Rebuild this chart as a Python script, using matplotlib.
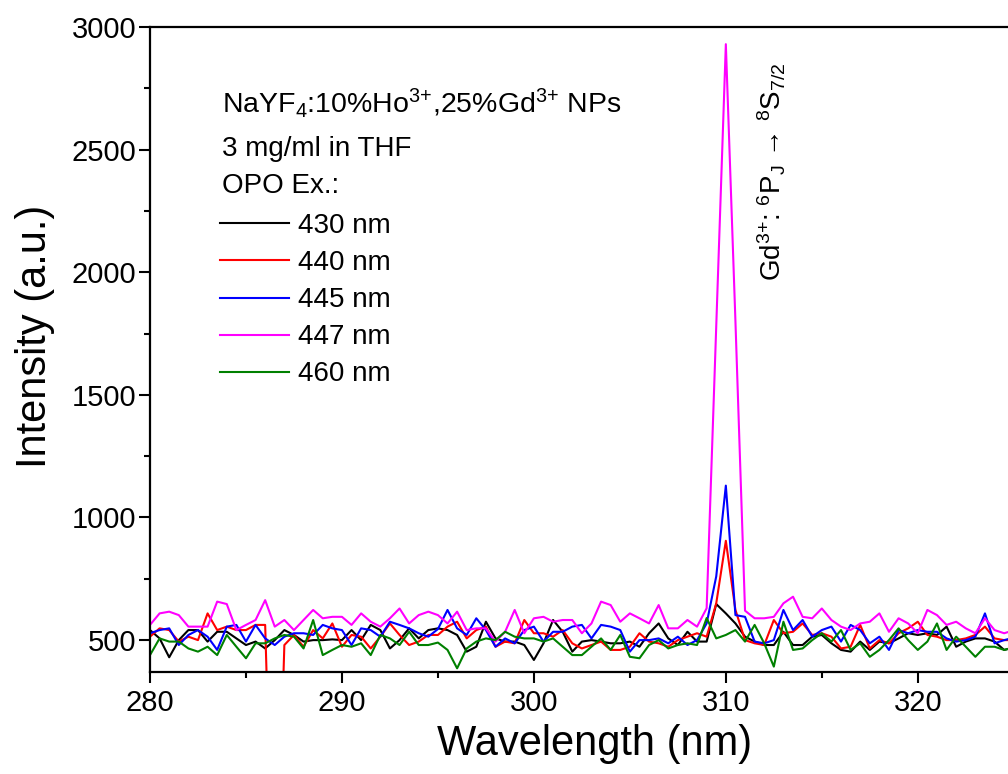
import numpy as np
import matplotlib
matplotlib.use("Agg")
import matplotlib.pyplot as plt

plt.rcParams['font.family'] = ['Liberation Sans', 'DejaVu Sans']
plt.rcParams['mathtext.fontset'] = 'custom'
plt.rcParams['mathtext.rm'] = 'Liberation Sans'
plt.rcParams['mathtext.it'] = 'Liberation Sans:italic'

# wavelength grid (nm), 0.5 nm steps
wavelength = np.arange(280, 325.5, 0.5)

ex_430 = [541, 507, 430, 500, 541, 541, 494, 534, 534, 507, 480, 494, 466, 500, 541, 521, 494, 500, 500, 503,
          500, 541, 500, 562, 541, 466, 500, 548, 507, 541,
          548, 541, 521, 453, 473, 575, 507, 494, 494, 480, 419, 487, 582, 534, 453, 494, 500, 494, 487, 487,
          494, 473, 528, 568, 507, 480, 534, 494, 494, 647,
          609, 568, 514, 494, 480, 480, 534, 480, 480, 514, 521, 487, 460, 453, 494, 460, 494, 487, 507, 528,
          521, 528, 521, 555, 473, 494, 507, 507, 494, 460, 470]
ex_440 = [514, 548, 541, 494, 514, 500, 609, 541, 555, 541, 541, 562, 562, -800, 480, 521, 473, 541, 507, 568,
          473, 521, 514, 466, 514, 568, 521, 480, 494, 521,
          521, 555, 575, 507, 541, 555, 473, 494, 487, 582, 528, 528, 514, 541, 487, 466, 480, 494, 460, 460,
          473, 528, 494, 487, 473, 500, 514, 528, 514, 650,
          905, 623, 500, 487, 480, 582, 528, 534, 568, 521, 528, 514, 466, 473, 562, 466, 500, 487, 528, 548,
          575, 521, 514, 500, 500, 507, 521, 555, 507, 500, 500]
ex_445 = [528, 541, 548, 480, 521, 541, 514, 460, 555, 562, 494, 562, 507, 480, 514, 528, 528, 521, 562, 548,
          541, 480, 548, 541, 514, 575, 562, 548, 528, 514,
          545, 623, 548, 521, 589, 541, 473, 507, 487, 541, 555, 494, 534, 534, 555, 562, 507, 562, 555, 541,
          453, 500, 500, 507, 487, 514, 480, 500, 568, 760,
          1130, 602, 595, 494, 487, 500, 623, 541, 582, 514, 541, 555, 494, 562, 541, 487, 514, 460, 541, 528,
          541, 534, 534, 507, 494, 500, 514, 609, 487, 500, 510]
ex_447 = [562, 609, 616, 602, 555, 555, 555, 657, 647, 541, 562, 582, 663, 555, 582, 541, 582, 623, 589, 595,
          595, 562, 609, 575, 555, 589, 629, 568, 602, 616,
          602, 568, 616, 541, 548, 548, 494, 534, 623, 528, 589, 595, 575, 582, 582, 528, 568, 657, 643, 575,
          609, 589, 568, 643, 548, 548, 582, 555, 630, 1780,
          2930, 1800, 620, 589, 589, 595, 650, 677, 595, 589, 629, 582, 555, 541, 568, 575, 609, 534, 589, 568,
          528, 623, 602, 562, 575, 548, 528, 589, 541, 528, 540]
ex_460 = [439, 507, 494, 494, 466, 453, 473, 439, 521, 473, 426, 487, 487, 507, 521, 514, 466, 582, 439, 460,
          480, 473, 487, 439, 521, 507, 480, 534, 480, 480,
          490, 460, 385, 466, 494, 507, 500, 534, 514, 507, 507, 494, 507, 473, 439, 439, 473, 507, 460, 521,
          432, 426, 480, 500, 466, 480, 487, 480, 590, 507,
          521, 541, 494, 562, 487, 392, 575, 460, 466, 500, 528, 494, 541, 460, 487, 432, 460, 500, 548, 500,
          460, 494, 568, 460, 514, 473, 432, 473, 473, 460, 470]

series = [ex_430, ex_440, ex_445, ex_447, ex_460]
labels = ['430 nm', '440 nm', '445 nm', '447 nm', '460 nm']
colors = ['#000000', '#ff0000', '#0000ff', '#ff00ff', '#008000']

fig = plt.figure(figsize=(10.08, 7.74), dpi=100)
ax = fig.add_axes([150 / 1008, 102 / 774, 858 / 1008, 645 / 774])

lines = []
for y, lab, c in zip(series, labels, colors):
    ln, = ax.plot(wavelength, y, color=c, lw=1.5, label=lab)
    lines.append(ln)

ax.set_xlim(280, 324.7)
ax.set_ylim(370, 3000)
ax.set_xticks([280, 290, 300, 310, 320])
ax.set_xticks([285, 295, 305, 315], minor=True)
ax.set_yticks([500, 1000, 1500, 2000, 2500, 3000])
ax.set_yticks([750, 1250, 1750, 2250, 2750], minor=True)

ax.spines['right'].set_visible(False)
for s in ['left', 'bottom', 'top']:
    ax.spines[s].set_linewidth(1.6)
ax.tick_params(which='major', direction='out', length=8, width=1.5, labelsize=21)
ax.tick_params(axis='y', which='major', pad=2)
ax.tick_params(axis='x', which='major', pad=4)
ax.tick_params(which='minor', direction='out', length=4.5, width=1.5)

ax.set_xlabel('Wavelength (nm)', fontsize=30)
ax.set_ylabel('Intensity (a.u.)', fontsize=30)
ax.xaxis.set_label_coords(0.5186, -0.08)
ax.yaxis.set_label_coords(-0.111, 0.52)

# header text above the legend
fig.text(222 / 1008, 1 - 103 / 774,
         r'NaYF$_{\mathregular{4}}$:10%Ho$^{\mathregular{3{+}}}$,25%Gd$^{\mathregular{3{+}}}$ NPs',
         fontsize=20.5, va='center', ha='left')
fig.text(222 / 1008, 1 - 149 / 774, '3 mg/ml in THF', fontsize=20, va='center', ha='left')
fig.text(222 / 1008, 1 - 186 / 774, 'OPO Ex.:', fontsize=20, va='center', ha='left')

ax.legend(handles=lines, labels=labels, loc='upper left',
          bbox_to_anchor=(220 / 1008, 1 - 213 / 774), bbox_transform=fig.transFigure,
          frameon=False, fontsize=20, handlelength=2.5, handletextpad=0.3,
          labelspacing=0.4, borderpad=0, borderaxespad=0)

fig.text(772 / 1008, 1 - 172 / 774,
         r'Gd$^{\mathregular{3{+}}}$: $^{\mathregular{6}}$P$_{\mathregular{J}}$ → $^{\mathregular{8}}$S$_{\mathregular{7/2}}$',
         fontsize=20, rotation=90, va='center', ha='center')

fig.savefig('out.png', dpi=100)
